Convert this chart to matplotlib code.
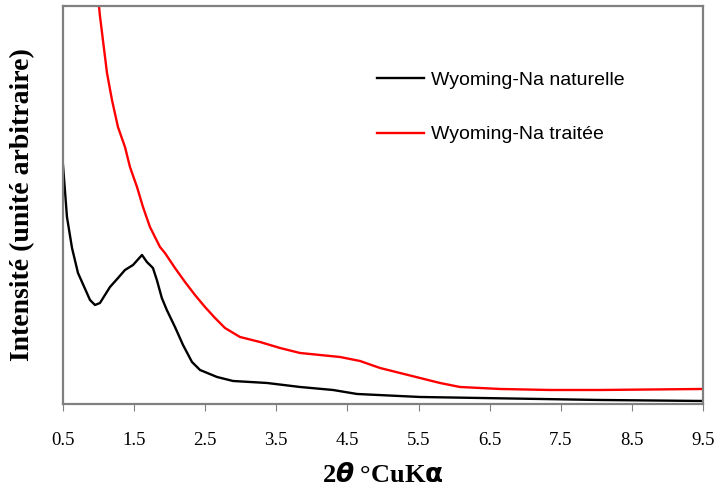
import numpy as np
import matplotlib
matplotlib.use("Agg")
import matplotlib.pyplot as plt

# values (arbitrary intensity units)
x_nat = [0.5, 0.556, 0.627, 0.711, 0.88, 0.95, 1.02, 1.161, 1.274, 1.372, 1.485, 1.611,
         1.68, 1.765, 1.82, 1.89, 1.96, 2.075, 2.188, 2.314, 2.427, 2.666, 2.891,
         3.37, 3.833, 4.297, 4.635, 5.52, 6.364, 7.208, 8.052, 9.5]
y_nat = [239, 187, 156, 131, 104, 99, 101, 117, 126, 134, 139, 149,
         142, 136, 124, 106, 94, 77, 59, 42, 34, 27, 23,
         21, 17, 14, 10, 7, 6, 5, 4, 3]

x_tr = [0.99, 1.006, 1.02, 1.119, 1.189, 1.273, 1.372, 1.442, 1.541, 1.625, 1.723, 1.864,
        1.934, 2.075, 2.216, 2.356, 2.497, 2.638, 2.778, 2.989, 3.27, 3.552, 3.833,
        4.114, 4.395, 4.677, 4.958, 5.239, 5.52, 5.802, 6.083, 6.364, 6.645, 7.349,
        8.052, 9.5]
y_tr = [415, 398, 388, 331, 304, 277, 257, 237, 217, 197, 177, 157,
        151, 136, 122, 109, 97, 86, 76, 67, 62, 56, 51,
        49, 47, 43, 36, 31, 26, 21, 17, 16, 15, 14,
        14, 15]

labels = ["Wyoming-Na naturelle", "Wyoming-Na traitée"]
xticks = [0.5, 1.5, 2.5, 3.5, 4.5, 5.5, 6.5, 7.5, 8.5, 9.5]

fig = plt.figure(figsize=(7.19, 4.92), dpi=100)
ax = fig.add_axes([0.0876, 0.1789, 0.8901, 0.8089])

ax.plot(x_nat, y_nat, color="black", lw=1.7, label=labels[0])
ax.plot(x_tr, y_tr, color="#ff0000", lw=1.7, label=labels[1])

ax.set_xlim(0.5, 9.5)
ax.set_ylim(0, 398)
ax.set_xticks(xticks)
ax.set_xticklabels([str(t) for t in xticks], family="Liberation Serif", fontsize=13.5)
ax.set_yticks([])
ax.tick_params(axis="x", direction="out", length=5, color="#808080", pad=15)
for s in ax.spines.values():
    s.set_color("#808080")
    s.set_linewidth(1.6)

ax.set_xlabel(r"2$\boldsymbol{\theta}$ °CuK$\mathbf{\alpha}$", family="Liberation Serif",
              fontsize=19, fontweight="bold", labelpad=10)
ax.set_ylabel("Intensité (unité arbitraire)", family="Liberation Serif",
              fontsize=20, fontweight="bold", labelpad=20)

leg = ax.legend(loc="upper left", bbox_to_anchor=(0.464, 0.88), frameon=False,
                prop={"family": "Liberation Sans", "size": 14}, handlelength=2.4,
                handletextpad=0.35, labelspacing=1.9)

fig.savefig("out.png", dpi=100)
